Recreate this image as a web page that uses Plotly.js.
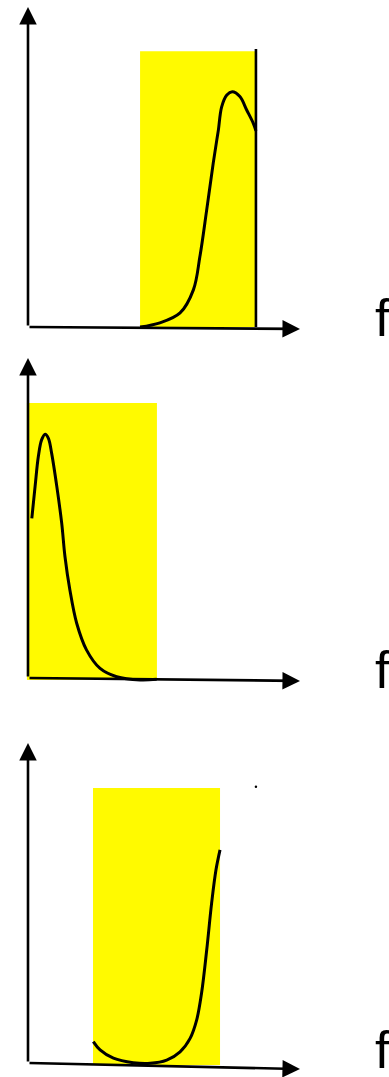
<!DOCTYPE html>
<html>
<head>
<meta charset="utf-8">
<script src="https://cdn.plot.ly/plotly-3.0.1.min.js"></script>
<style>html,body{margin:0;padding:0;background:#fff;}#chart{width:389px;height:1077px;}</style>
</head>
<body>
<div id="chart"></div>
<script>
// ---- data (abstract frequency / amplitude units) ----
// Panel 1: response peaking at high frequency, band on the right
const band1X = [4.12, 8.35];
const band1Top = 8.62;
const curve1X = [4.12, 4.85, 5.59, 6.08, 6.32, 6.57, 6.81, 6.94, 7.00, 7.12, 7.31, 7.51, 7.79, 8.04, 8.28, 8.38];
const curve1Y = [0.00, 0.13, 0.44, 1.16, 2.20, 3.66, 5.12, 5.84, 6.16, 6.88, 7.25, 7.35, 7.20, 6.78, 6.37, 6.13];
const cutoff1X = 8.38;
const cutoff1Top = 8.69;

// Panel 2: response peaking at low frequency, band on the left
const band2X = [-0.04, 4.74];
const band2Top = 8.59;
const curve2X = [0.14, 0.26, 0.38, 0.50, 0.63, 0.75, 0.87, 1.06, 1.24, 1.36, 1.54, 1.79, 2.15, 2.65, 3.26, 4.12, 4.73];
const curve2Y = [4.99, 5.98, 6.92, 7.44, 7.62, 7.49, 7.02, 5.98, 4.83, 3.79, 2.75, 1.71, 0.88, 0.30, 0.04, -0.06, -0.04];

// Panel 3: response rising at the band's upper edge, band in the middle
const band3X = [2.39, 7.06];
const band3Top = 8.59;
const curve3X = [2.40, 2.65, 3.14, 3.87, 4.49, 5.10, 5.59, 5.96, 6.20, 6.38, 6.57, 6.75, 6.91, 7.06];
const curve3Y = [0.67, 0.41, 0.15, 0.01, -0.01, 0.09, 0.35, 0.77, 1.34, 2.18, 3.53, 4.99, 6.03, 6.66];
const dot3 = [8.38, 8.63];

const axisLabel = "f";
// x-axis end drop (axis lines are drawn slightly sloped)
const xAxisEndY = [-0.06, -0.09, -0.19];
const yAxisTop = 10.0;
const xAxisEnd = 10.0;
const bandBottom = [0, -0.06, -0.06];

// ---- build ----
const YELLOW = '#FFFA00';
function bandTrace(xr, top, bottom, ax) {
  return {x: [xr[0], xr[1], xr[1], xr[0], xr[0]], y: [bottom, bottom, top, top, bottom],
    xaxis: 'x' + ax, yaxis: 'y' + ax, mode: 'lines', fill: 'toself', fillcolor: YELLOW,
    line: {width: 0, color: YELLOW}, hoverinfo: 'skip', showlegend: false};
}
function curveTrace(xs, ys, ax) {
  return {x: xs, y: ys, xaxis: 'x' + ax, yaxis: 'y' + ax, mode: 'lines',
    line: {color: '#000', width: 3, shape: 'spline', smoothing: 1.0}, showlegend: false};
}
const traces = [
  bandTrace(band1X, band1Top, bandBottom[0], ''),
  curveTrace(curve1X, curve1Y, ''),
  {x: [cutoff1X, cutoff1X], y: [0, cutoff1Top], xaxis: 'x', yaxis: 'y', mode: 'lines',
   line: {color: '#000', width: 2.6}, showlegend: false},
  bandTrace(band2X, band2Top, bandBottom[1], '2'),
  curveTrace(curve2X, curve2Y, '2'),
  bandTrace(band3X, band3Top, bandBottom[2], '3'),
  curveTrace(curve3X, curve3Y, '3'),
  {x: [dot3[0]], y: [dot3[1]], xaxis: 'x3', yaxis: 'y3', mode: 'markers',
   marker: {color: '#000', size: 2.5}, showlegend: false}
];

const xDom = [0.037018, 0.806170];
const yDoms = [[0.687465, 0.996472], [0.361560, 0.670566], [0.004085, 0.313092]];
const hidden = {showgrid: false, zeroline: false, showline: false, showticklabels: false, ticks: '', fixedrange: true};

const layout = {
  width: 389, height: 1077, margin: {l: 0, r: 0, t: 0, b: 0},
  paper_bgcolor: '#fff', plot_bgcolor: 'rgba(0,0,0,0)', showlegend: false,
  annotations: [], shapes: []
};
const axNames = ['', '2', '3'];
const fTops = [287, 639, 1019];
axNames.forEach((n, i) => {
  layout['xaxis' + n] = Object.assign({}, hidden, {domain: xDom, range: [-0.5, 10.5], anchor: 'y' + n});
  layout['yaxis' + n] = Object.assign({}, hidden, {domain: yDoms[i], range: [-0.3, 10.1], anchor: 'x' + n});
  const xr = 'x' + n, yr = 'y' + n;
  // y-axis arrow
  layout.annotations.push({xref: xr, yref: yr, axref: xr, ayref: yr, x: 0, y: yAxisTop, ax: 0, ay: 0,
    text: '', showarrow: true, arrowhead: 2, arrowsize: 1.35, arrowwidth: 2.6, arrowcolor: '#000', standoff: 0});
  // x-axis arrow
  layout.annotations.push({xref: xr, yref: yr, axref: xr, ayref: yr, x: xAxisEnd, y: xAxisEndY[i], ax: 0, ay: 0,
    text: '', showarrow: true, arrowhead: 2, arrowsize: 1.35, arrowwidth: 2.6, arrowcolor: '#000', standoff: 0});
  // "f" label
  layout.annotations.push({xref: 'paper', yref: 'paper', x: 373 / 389, y: 1 - fTops[i] / 1077,
    xanchor: 'left', yanchor: 'top', text: axisLabel, showarrow: false,
    font: {family: 'Liberation Sans, Arial, sans-serif', size: 52, color: '#000'}});
});

Plotly.newPlot('chart', traces, layout, {staticPlot: true, displayModeBar: false});
</script>
</body>
</html>
